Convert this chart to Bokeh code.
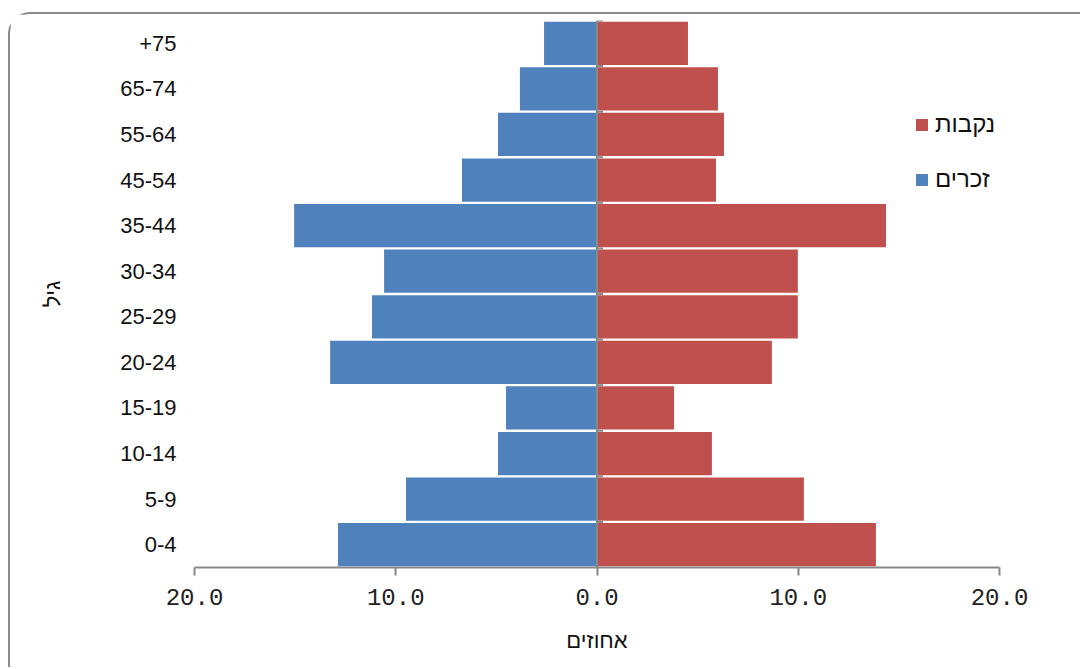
from bokeh.plotting import figure
from bokeh.models import (Range1d, FactorRange, ColumnDataSource, FixedTicker,
                          CustomJSTickFormatter, Legend, LegendItem, Span)
from bokeh.embed import file_html
from bokeh.resources import INLINE

age_groups = ["0-4", "5-9", "10-14", "15-19", "20-24", "25-29", "30-34",
              "35-44", "45-54", "55-64", "65-74", "+75"]
males = [12.87, 9.49, 4.92, 4.52, 13.26, 11.18, 10.58, 15.05, 6.71, 4.92, 3.83, 2.63]
females = [13.86, 10.28, 5.71, 3.83, 8.69, 9.98, 9.98, 14.36, 5.91, 6.31, 6.01, 4.52]
x_ticks = [-20, -10, 0, 10, 20]
label_f = "נקבות"
label_m = "זכרים"
x_title = "אחוזים"
y_title = "גיל"

BLUE = "#4F81BD"
RED = "#C0504D"
GRAY = "#888888"

src = ColumnDataSource(dict(
    age=age_groups,
    m_left=[-v for v in males],
    zero=[0] * len(age_groups),
    f_right=females,
    tick_y=[(a, 0.5) for a in age_groups],
    tick_x1=[0.3] * len(age_groups),
))

p = figure(width=1072, height=655,
           y_range=FactorRange(*age_groups), x_range=Range1d(-20, 20),
           output_backend="svg", toolbar_location=None,
           min_border_left=184, min_border_right=83,
           min_border_top=6, min_border_bottom=102)
p.styles = {"border-top": "2px solid #8a8a8a", "border-left": "2px solid #8a8a8a",
            "border-top-left-radius": "22px",
            "margin-left": "8px", "margin-top": "12px"}

r_m = p.hbar(y="age", left="m_left", right="zero", height=0.95, source=src,
             fill_color=BLUE, line_color=None)
r_f = p.hbar(y="age", left="zero", right="f_right", height=0.95, source=src,
             fill_color=RED, line_color=None)

p.add_layout(Span(location=0, dimension="height", line_color=GRAY, line_width=2))
p.segment(x0="zero", x1="tick_x1", y0="tick_y", y1="tick_y", source=src,
          line_color=GRAY, line_width=2)

p.xgrid.visible = False
p.ygrid.visible = False
p.outline_line_color = None
p.background_fill_color = "white"

xa = p.xaxis[0]
xa.ticker = FixedTicker(ticks=x_ticks)
xa.formatter = CustomJSTickFormatter(code="return Math.abs(tick).toFixed(1);")
xa.axis_line_color = GRAY
xa.axis_line_width = 2
xa.major_tick_line_color = GRAY
xa.major_tick_line_width = 2
xa.major_tick_out = 8
xa.major_tick_in = 0
xa.minor_tick_line_color = None
xa.major_label_text_font = "Liberation Mono"
xa.major_label_text_font_size = "24px"
xa.major_label_text_color = "#222222"
xa.major_label_standoff = 13
xa.axis_label = x_title
xa.axis_label_text_font = "Liberation Sans"
xa.axis_label_text_font_style = "normal"
xa.axis_label_text_font_size = "22px"
xa.axis_label_text_color = "#111111"
xa.axis_label_standoff = 20

ya = p.yaxis[0]
ya.axis_line_color = None
ya.major_tick_line_color = None
ya.minor_tick_line_color = None
ya.major_label_text_font = "Liberation Sans"
ya.major_label_text_font_size = "22px"
ya.major_label_text_color = "#111111"
ya.major_label_standoff = 12
ya.axis_label = y_title
ya.axis_label_text_font = "Liberation Sans"
ya.axis_label_text_font_style = "normal"
ya.axis_label_text_font_size = "22px"
ya.axis_label_text_color = "#111111"
ya.axis_label_standoff = 52

legend = Legend(items=[LegendItem(label=label_f, renderers=[r_f]),
                       LegendItem(label=label_m, renderers=[r_m])],
                location=(720, 374), orientation="vertical",
                border_line_color=None, background_fill_alpha=0,
                padding=0, margin=0, spacing=27,
                glyph_width=15, glyph_height=15, label_height=15,
                label_standoff=6, label_text_font="Liberation Sans",
                label_text_font_size="24px", label_text_color="#111111")
p.add_layout(legend)

open("out.html", "w").write(file_html(p, INLINE))
